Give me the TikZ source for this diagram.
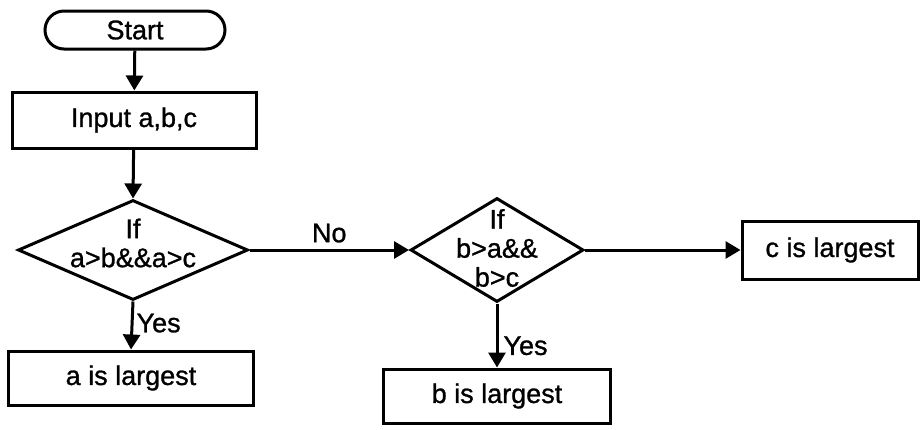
\documentclass[tikz,border=0pt]{standalone}
\usepackage{fontspec}
\setmainfont{Liberation Sans}[BoldFont={Liberation Sans},BoldFeatures={FakeBold=1.0}]
\usetikzlibrary{shapes.geometric,arrows.meta}
\begin{document}
\begin{tikzpicture}[x=1pt,y=1pt,
  every node/.style={font=\fontsize{27}{29}\selectfont\bfseries},
  box/.style={draw,line width=3pt,rectangle,inner sep=0pt},
  term/.style={box,rounded corners=19pt},
  decision/.style={draw,line width=3pt,diamond,inner sep=0pt},
  dtext/.style={align=center,inner sep=0pt},
  flow/.style={line width=3pt,-{Triangle[length=15pt,width=17pt]}},
  lbl/.style={inner sep=3pt}]
\useasboundingbox (0,0) rectangle (921,-429);
% process and terminal boxes
\node[term,minimum width=180,minimum height=38] (start) at (135,-30) {Start};
\node[box,minimum width=244,minimum height=56] (input) at (134,-120) {Input a,b,c};
\node[box,minimum width=245,minimum height=54] (abox) at (131,-378) {a is largest};
\node[box,minimum width=227,minimum height=54] (bbox) at (497,-396) {b is largest};
\node[box,minimum width=176,minimum height=58] (cbox) at (830,-250) {c is largest};
% decisions: outline first, then the condition text on top
\node[decision,minimum width=230,minimum height=100] (d1) at (133,-250) {};
\node[dtext] (d1text) at ([yshift=7]d1.center) {If\\a>b\&\&a>c};
\node[decision,minimum width=173,minimum height=104] (d2) at (497,-250) {};
\node[dtext] (d2text) at ([yshift=2]d2.center) {If\\b>a\&\&\\b>c};
% connectors
\draw[flow] (start) -- (input);
\draw[flow] (input) -- (d1.north);
\draw[flow] (d1.south) -- node[lbl,anchor=west,pos=0.45] {Yes} (abox.north);
\draw[flow] (d1.east) -- node[lbl,anchor=south,pos=0.5,yshift=3] {No} (d2.west);
\draw[flow] (d2.south) -- node[lbl,anchor=west,pos=0.66,xshift=2] {Yes} (bbox.north);
\draw[flow] (d2.east) -- (cbox.west);
\end{tikzpicture}
\end{document}
